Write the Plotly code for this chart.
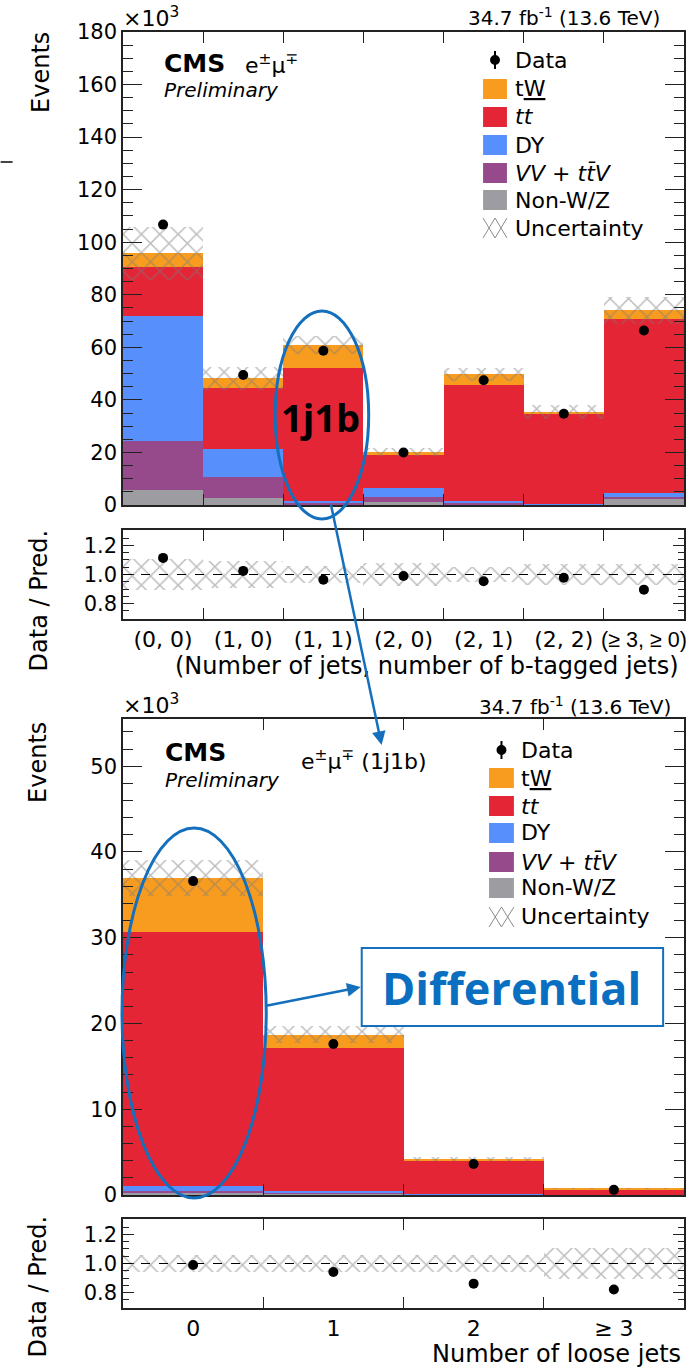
import numpy as np
import plotly.graph_objects as go

# ------------------------- data (x10^3 events) -------------------------
top_cats = ["(0, 0)", "(1, 0)", "(1, 1)", "(2, 0)", "(2, 1)", "(2, 2)", "(≥ 3, ≥ 0)"]
top_labels = ["(0, 0)", "(1, 0)", "(1, 1)", "(2, 0)", "(2, 1)", "(2, 2)",
              '<span style="font-family:Liberation Sans;font-size:21.5px">(≥ 3, ≥ 0)</span>']
top_nonwz = [5.7, 2.8, 0.2, 1.3, 0.3, 0.15, 2.2]
top_vv = [18.6, 7.8, 0.6, 1.6, 0.6, 0.2, 1.0]
top_dy = [47.5, 10.8, 0.7, 3.7, 0.5, 0.2, 1.3]
top_tt = [18.9, 23.0, 50.5, 12.3, 44.3, 33.95, 66.4]
top_tw = [5.1, 3.9, 8.9, 1.3, 4.1, 1.0, 3.2]
top_data = [106.7, 49.5, 58.7, 20.0, 47.5, 34.7, 66.4]
top_unc = [0.105, 0.09, 0.055, 0.08, 0.05, 0.075, 0.07]

bot_cats = ["0", "1", "2", "≥ 3"]
bot_labels = ["0", "1", "2", "≥ 3"]
bot_nonwz = [0.2, 0.15, 0.05, 0.02]
bot_vv = [0.3, 0.15, 0.05, 0.02]
bot_dy = [0.6, 0.2, 0.05, 0.01]
bot_tt = [29.6, 16.6, 3.92, 0.63]
bot_tw = [6.3, 1.6, 0.13, 0.05]
bot_data = [36.6, 17.6, 3.62, 0.6]
bot_unc = [0.057, 0.055, 0.06, 0.105]

# ------------------------- styling -------------------------
C_TW, C_TT, C_DY, C_VV, C_NW = "#f89c20", "#e42536", "#5790fc", "#964a8b", "#9c9ca1"
BLUE = "#1470bd"
FONT = "DejaVu Sans"
AX = "#222222"

W, H = 689, 1367
L, R, T, B = 123, 2, 32, 59
PW, PH = W - L - R, H - T - B


def px(x):
    return (x - L) / PW


def py(y):
    return (H - B - y) / PH


def dom(y_top, y_bot):
    return [py(y_bot), py(y_top)]


fig = go.Figure()

hatch = dict(shape="x", fgcolor="#7a7a7a", bgcolor="rgba(0,0,0,0)", size=13,
             solidity=0.22, fillmode="overlay")


def panel(cats, comps, data, unc, xm, ym, xr, yr):
    n = len(cats)
    base = np.zeros(n)
    for vals, col in comps:
        v = np.array(vals, dtype=float)
        fig.add_trace(go.Bar(x=cats, y=v, base=base.copy(), width=1,
                             marker=dict(color=col, line=dict(width=0)),
                             xaxis=xm, yaxis=ym, showlegend=False, hoverinfo="skip"))
        base = base + v
    total = base
    u = np.array(unc)
    fig.add_trace(go.Bar(x=cats, y=2 * u * total, base=total * (1 - u), width=1,
                         marker=dict(color="rgba(0,0,0,0)", line=dict(width=0), pattern=hatch),
                         xaxis=xm, yaxis=ym, showlegend=False, hoverinfo="skip"))
    d = np.array(data)
    fig.add_trace(go.Scatter(x=cats, y=d, mode="markers",
                             marker=dict(color="black", size=10),
                             xaxis=xm, yaxis=ym, showlegend=False))
    fig.add_trace(go.Bar(x=cats, y=2 * u, base=1 - u, width=1,
                         marker=dict(color="rgba(0,0,0,0)", line=dict(width=0), pattern=hatch),
                         xaxis=xr, yaxis=yr, showlegend=False, hoverinfo="skip"))
    fig.add_trace(go.Scatter(x=cats, y=d / total, mode="markers",
                             marker=dict(color="black", size=10),
                             xaxis=xr, yaxis=yr, showlegend=False))


panel(top_cats, [(top_nonwz, C_NW), (top_vv, C_VV), (top_dy, C_DY), (top_tt, C_TT), (top_tw, C_TW)],
      top_data, top_unc, "x", "y", "x2", "y2")
panel(bot_cats, [(bot_nonwz, C_NW), (bot_vv, C_VV), (bot_dy, C_DY), (bot_tt, C_TT), (bot_tw, C_TW)],
      bot_data, bot_unc, "x3", "y3", "x4", "y4")


def xaxis(cats, labels, anchor, show):
    return dict(domain=[0, 1], anchor=anchor, type="category", categoryorder="array",
                categoryarray=cats, range=[-0.5, len(cats) - 0.5], tickson="boundaries",
                tickmode="array", tickvals=cats, ticktext=labels,
                ticks="inside", ticklen=11, tickwidth=1.3, tickcolor=AX,
                mirror="allticks", showline=True, linecolor=AX, linewidth=1.5,
                showgrid=False, zeroline=False, showticklabels=show, tickangle=0,
                tickfont=dict(family=FONT, size=22, color="black"))


def yaxis_main(domain, anchor, rng, dtick, mdtick):
    return dict(domain=domain, anchor=anchor, range=rng, tick0=0, dtick=dtick,
                ticks="inside", ticklen=19, tickwidth=1.3, tickcolor=AX,
                minor=dict(ticks="inside", ticklen=10, dtick=mdtick, tick0=0, tickcolor=AX, tickwidth=1.3),
                mirror="allticks", showline=True, linecolor=AX, linewidth=1.5,
                showgrid=False, zeroline=False,
                tickfont=dict(family=FONT, size=21, color="black"))


def yaxis_ratio(domain, anchor):
    return dict(domain=domain, anchor=anchor, range=[0.695, 1.305], tick0=0.8, dtick=0.2,
                tickformat=".1f",
                ticks="inside", ticklen=11, tickwidth=1.3, tickcolor=AX,
                minor=dict(ticks="inside", ticklen=6, dtick=0.05, tick0=0.7, tickcolor=AX, tickwidth=1.3),
                mirror="allticks", showline=True, linecolor=AX, linewidth=1.5,
                showgrid=False, zeroline=False,
                tickfont=dict(family=FONT, size=21, color="black"))


fig.update_layout(
    width=W, height=H, margin=dict(l=L, r=R, t=T, b=B),
    paper_bgcolor="white", plot_bgcolor="white",
    barmode="overlay", bargap=0, showlegend=False,
    font=dict(family=FONT, color="black"),
    xaxis=xaxis(top_cats, top_labels, "y", False),
    xaxis2=xaxis(top_cats, top_labels, "y2", True),
    xaxis3=xaxis(bot_cats, bot_labels, "y3", False),
    xaxis4=xaxis(bot_cats, bot_labels, "y4", True),
    yaxis=yaxis_main(dom(32, 505), "x", [0, 180], 20, 5),
    yaxis2=yaxis_ratio(dom(530, 619), "x2"),
    yaxis3=yaxis_main(dom(719, 1195), "x3", [0, 55.5], 10, 2),
    yaxis4=yaxis_ratio(dom(1219, 1308), "x4"),
)

shapes = []
ann = []

# dashed unity lines in ratio panels
for xr, yr in (("x2", "y2"), ("x4", "y4")):
    shapes.append(dict(type="line", xref=xr + " domain", yref=yr, x0=0, x1=1, y0=1, y1=1,
                       line=dict(color="black", width=1, dash="dash")))


def text(x, y, s, size, xanchor="left", yanchor="middle", angle=0, family=FONT, color="black"):
    ann.append(dict(xref="paper", yref="paper", x=px(x), y=py(y), text=s, showarrow=False,
                    xanchor=xanchor, yanchor=yanchor, textangle=angle,
                    font=dict(family=family, size=size, color=color)))


# axis titles
text(40, 30, "Events", 24, "center", "top", -90)
text(39, 527, "Data / Pred.", 24, "center", "top", -90)
text(684, 666, "(Number of jets, number of b-tagged jets)", 24, "right", "middle")
text(38, 720, "Events", 24, "center", "top", -90)
text(38, 1213, "Data / Pred.", 24, "center", "top", -90)
text(686, 1354, "Number of loose jets", 24, "right", "middle")

# headers
text(121, 17, "×10<sup>3</sup>", 22)
text(665, 17, "34.7 fb<sup>-1</sup> (13.6 TeV)", 20, "right")
text(121, 704, "×10<sup>3</sup>", 22)
text(676, 706, "34.7 fb<sup>-1</sup> (13.6 TeV)", 20, "right")

text(162, 63, "<b>CMS</b>", 25)
text(162, 90, "<i>Preliminary</i>", 20)
text(244, 64, "e<sup>±</sup>μ<sup>∓</sup>", 22)
text(163, 752, "<b>CMS</b>", 25)
text(163, 780, "<i>Preliminary</i>", 20)
text(300, 760, "e<sup>±</sup>μ<sup>∓</sup> (1j1b)", 22)

# legends
leg_items = [("data", None, "Data"), ("bar", C_TW, "t<u>W</u>"), ("bar", C_TT, "<i>tt</i>"),
             ("bar", C_DY, "DY"), ("bar", C_VV, "<i>VV</i> + <i>tt\u0304V</i>"),
             ("bar", C_NW, "Non-W/Z"), ("unc", None, "Uncertainty")]


def legend(x0, x1, tx, ys):
    cx = (x0 + x1) / 2
    for (kind, col, lab), y in zip(leg_items, ys):
        if kind == "data":
            shapes.append(dict(type="line", xref="paper", yref="paper", x0=px(cx), x1=px(cx),
                               y0=py(y - 9), y1=py(y + 9), line=dict(color="black", width=2)))
            shapes.append(dict(type="circle", xref="paper", yref="paper", x0=px(cx - 5), x1=px(cx + 5),
                               y0=py(y - 5), y1=py(y + 5), fillcolor="black", line=dict(width=0)))
        elif kind == "bar":
            shapes.append(dict(type="rect", xref="paper", yref="paper", x0=px(x0), x1=px(x1),
                               y0=py(y - 10), y1=py(y + 10), fillcolor=col, line=dict(width=0)))
        else:
            xm = (x0 + x1) / 2
            p = (f"M{px(x0)},{py(y - 10)} L{px(xm)},{py(y + 10)} M{px(xm)},{py(y - 10)} L{px(x1)},{py(y + 10)} "
                 f"M{px(x0)},{py(y + 10)} L{px(xm)},{py(y - 10)} M{px(xm)},{py(y + 10)} L{px(x1)},{py(y - 10)}")
            shapes.append(dict(type="path", xref="paper", yref="paper", path=p,
                               line=dict(color="#8c8c8c", width=1)))
        text(tx, y, lab, 22)


legend(485, 509, 515, [60, 89, 117, 145, 173, 200, 228])
legend(491, 516, 521, [750, 778, 806, 833, 862, 888, 917])

# overlays (slide annotations)
shapes.append(dict(type="circle", xref="paper", yref="paper", x0=px(276), x1=px(370),
                   y0=py(519), y1=py(311), line=dict(color=BLUE, width=3), fillcolor="rgba(0,0,0,0)"))
shapes.append(dict(type="circle", xref="paper", yref="paper", x0=px(122), x1=px(267),
                   y0=py(1198), y1=py(828), line=dict(color=BLUE, width=3), fillcolor="rgba(0,0,0,0)"))
shapes.append(dict(type="rect", xref="paper", yref="paper", x0=px(363), x1=px(666),
                   y0=py(1026), y1=py(948), line=dict(color=BLUE, width=2), fillcolor="white"))
shapes.append(dict(type="line", xref="paper", yref="paper", x0=px(0), x1=px(12),
                   y0=py(162), y1=py(162), line=dict(color="#444", width=2)))

text(322, 417, "<b>1j1b</b>", 38, "center", "middle", family="Open Sans")
text(514, 987, "<b>Differential</b>", 45, "center", "middle", family="Open Sans", color="#0a6fc0")

for (tx0, ty0, hx, hy) in ((332, 503, 383, 745), (266, 1006, 362, 987)):
    ann.append(dict(xref="paper", yref="paper", axref="pixel", ayref="pixel",
                    x=px(hx), y=py(hy), ax=tx0 - hx, ay=ty0 - hy, text="", showarrow=True,
                    arrowhead=2, arrowsize=1.1, arrowwidth=2.5, arrowcolor=BLUE, standoff=0))

fig.update_layout(shapes=shapes, annotations=ann)
fig.write_html("out.html")
